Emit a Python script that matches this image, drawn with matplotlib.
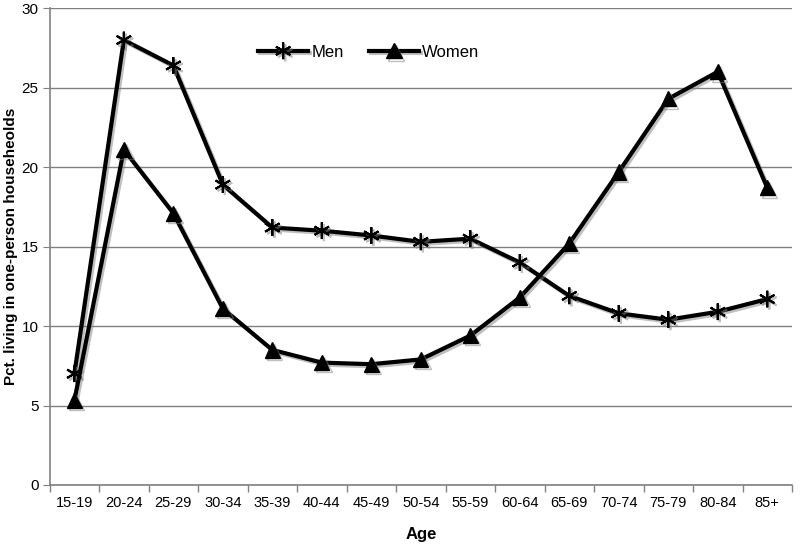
import matplotlib
matplotlib.use("Agg")
import matplotlib.pyplot as plt
import matplotlib.patheffects as pe

ages = ["15-19", "20-24", "25-29", "30-34", "35-39", "40-44", "45-49", "50-54",
        "55-59", "60-64", "65-69", "70-74", "75-79", "80-84", "85+"]
men = [7.0, 28.0, 26.4, 18.9, 16.2, 16.0, 15.7, 15.3, 15.5, 14.0, 11.9, 10.8, 10.4, 10.9, 11.7]
women = [5.3, 21.1, 17.1, 11.1, 8.5, 7.7, 7.6, 7.9, 9.4, 11.8, 15.2, 19.7, 24.3, 26.0, 18.7]

plt.rcParams['font.family'] = ['Liberation Sans', 'DejaVu Sans']

fig = plt.figure(figsize=(8, 5.48), dpi=100)
ax = fig.add_axes([0.062, 0.115, 0.928, 0.870])

x = list(range(len(ages)))
shadow = [pe.SimpleLineShadow(offset=(1.5, -1.5), shadow_color='gray', alpha=0.5), pe.Normal()]

ax.plot(x, men, color='black', lw=3, marker=(6, 2, 0), markersize=12,
        markeredgewidth=1.5, label='Men', zorder=3, path_effects=shadow)
ax.plot(x, women, color='black', lw=3, marker='^', markersize=11,
        label='Women', zorder=3, path_effects=shadow)

ax.set_xlim(-0.5, len(ages) - 0.5)
ax.set_ylim(0, 30)
ax.set_yticks(range(0, 31, 5))
ax.set_xticks(x)
ax.set_xticklabels(ages, fontsize=10.5)
ax.tick_params(axis='x', length=0, pad=8)
ax.set_xticks([i - 0.5 for i in range(len(ages) + 1)], minor=True)
ax.tick_params(axis='x', which='minor', length=5, color='#808080', width=1)
ax.tick_params(axis='y', length=5, color='#808080', labelsize=11, pad=3)

ax.grid(axis='y', color='#808080', lw=1)
ax.set_axisbelow(True)
for s in ['top', 'right']:
    ax.spines[s].set_visible(False)
for s in ['left', 'bottom']:
    ax.spines[s].set_color('#808080')
    ax.spines[s].set_linewidth(1.2)

ax.set_xlabel('Age', fontsize=12, fontweight='bold', labelpad=12)
fig.text(0.014, 0.55, 'Pct. living in one-person househeolds', fontsize=11,
         fontweight='bold', rotation=90, ha='center', va='center')

ax.legend(loc='upper center', bbox_to_anchor=(0.43, 0.955), ncol=2, frameon=False,
          fontsize=12, handlelength=3, columnspacing=1.5, handletextpad=0.2)

fig.savefig('out.png', dpi=100)
